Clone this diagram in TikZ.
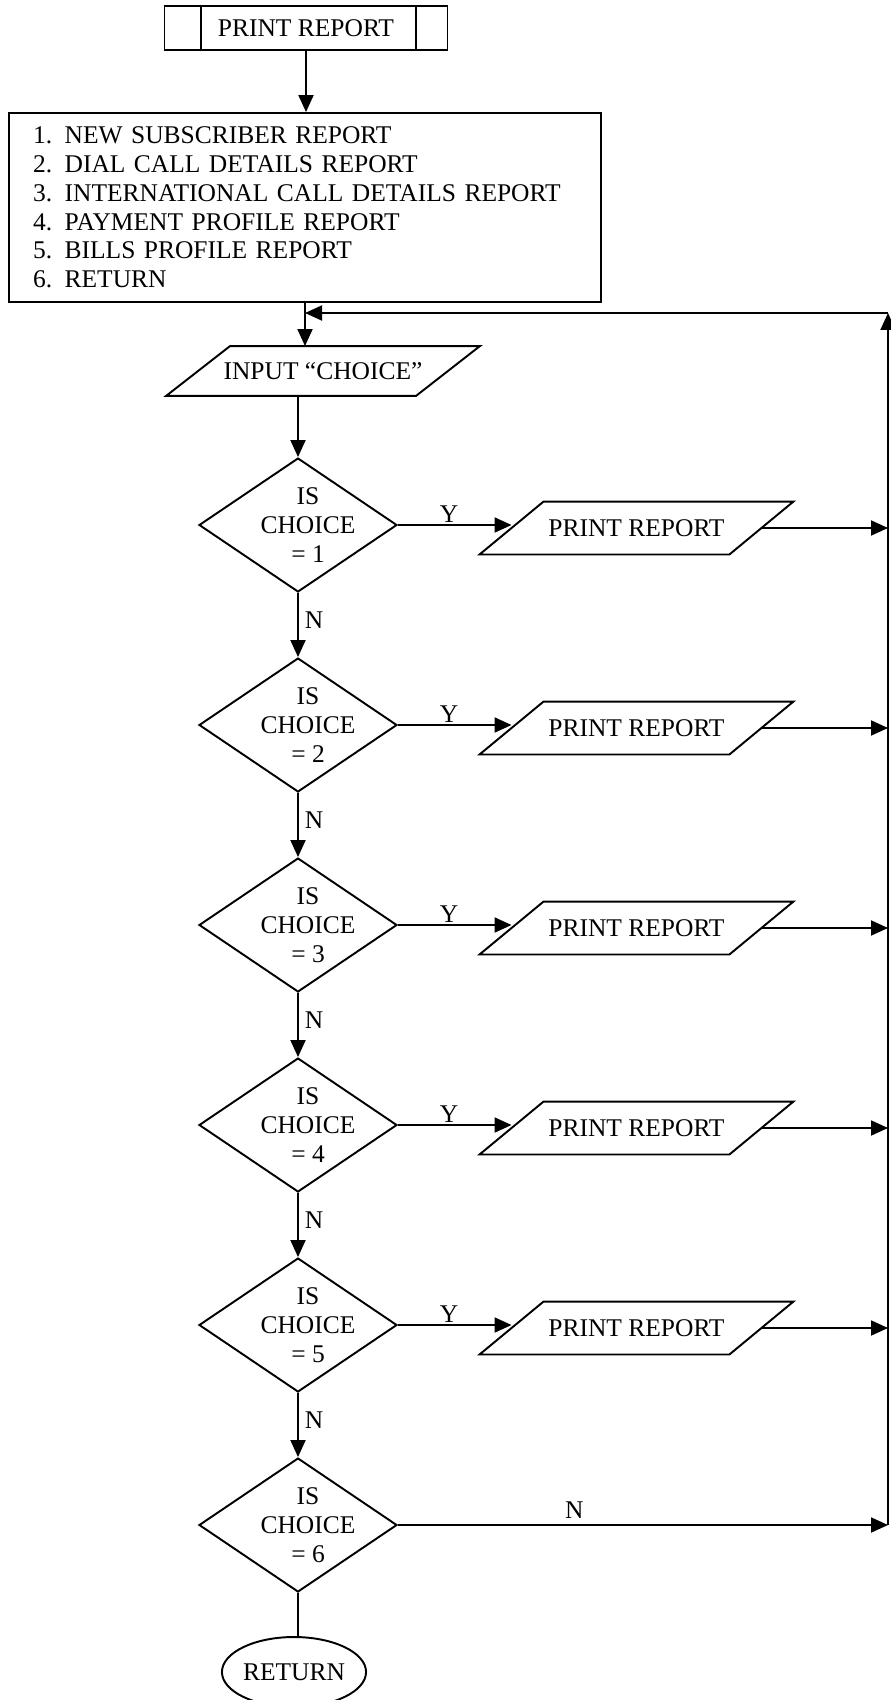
\documentclass[tikz,border=0pt]{standalone}
\usepackage{fontspec}
\setmainfont{Liberation Serif}
\usetikzlibrary{shapes.geometric,arrows.meta,calc}

% slanted input/output box round a rectangular node
\newcommand{\ioshape}[1]{\draw ($(#1.south west)+(-32,0)$) -- ($(#1.north west)+(32,0)$)
  -- ($(#1.north east)+(32,0)$) -- ($(#1.south east)+(-32,0)$) -- cycle;}

\begin{document}
\begin{tikzpicture}[x=0.02cm, y=-0.02cm, line width=1.1pt,
  font=\fontsize{14.5}{16.4}\selectfont,
  arr/.style={-{Triangle[length=0.34cm,width=0.3cm]}},
  box/.style={draw, rectangle, inner sep=0pt},
  decision/.style={draw, diamond, minimum width=3.96cm, minimum height=2.68cm, inner sep=0pt},
  io/.style={rectangle, minimum width=4.96cm, minimum height=1.02cm, inner sep=0pt}]
\useasboundingbox (0,0) rectangle (890,1700);

% header and menu
\node[box, minimum width=5.66cm, minimum height=0.88cm] (top) at (306,28) {PRINT REPORT};
\draw ($(top.north west)+(37,0)$) -- ($(top.south west)+(37,0)$);
\draw ($(top.north east)+(-32,0)$) -- ($(top.south east)+(-32,0)$);
\node[box, minimum height=3.78cm, text width=10.88cm, inner xsep=0.48cm, align=left] (menu) at (305,207.5)
  {\makebox[18pt][l]{1.}NEW SUBSCRIBER REPORT\\
   \makebox[18pt][l]{2.}DIAL CALL DETAILS REPORT\\
   \makebox[18pt][l]{3.}INTERNATIONAL CALL DETAILS REPORT\\
   \makebox[18pt][l]{4.}PAYMENT PROFILE REPORT\\
   \makebox[18pt][l]{5.}BILLS PROFILE REPORT\\
   \makebox[18pt][l]{6.}RETURN};
\node[io, minimum height=0.96cm] (in) at (323,371) {INPUT “CHOICE”};
\ioshape{in}
\coordinate (loop) at (888,313);

\draw[arr] (top) -- (top |- menu.north);
\draw[arr] (menu.south) -- (menu.south |- in.north);
\draw[arr] (loop) -- (loop -| menu.south);

% choices
\foreach \i in {1,...,5} {
  \node[decision, label={[xshift=0.2cm, align=center]center:IS\\CHOICE\\= \i}] (d\i) at (298,325+200*\i) {};
  \node[io] (p\i) at (636.5,328+200*\i) {PRINT REPORT};
  \ioshape{p\i}
  \draw[arr] (d\i.east) -- node[above, inner sep=1pt, pos=0.45] {Y} (d\i.east -| p\i.west);
  \draw[arr] (p\i.east) -- (p\i.east -| loop);
}
\node[decision, label={[xshift=0.2cm, align=center]center:IS\\CHOICE\\= 6}] (d6) at (298,1525) {};
\node[draw, ellipse, minimum width=2.68cm, minimum height=1.4cm, inner sep=0pt] (ret) at (294,1672) {RETURN};

\draw[arr] (d1.north |- in.south) -- (d1.north);
\foreach \i/\j in {1/2,2/3,3/4,4/5,5/6}
  \draw[arr] (d\i.south) -- node[right, pos=0.42] {N} (d\j.north);
\draw[arr] (d6.east) -- node[above, pos=0.36] {N} (d6.east -| loop);
\draw[arr] (d6.east -| loop) -- (loop);
\draw (d6.south) -- (d6.south |- ret.north);
\end{tikzpicture}
\end{document}
